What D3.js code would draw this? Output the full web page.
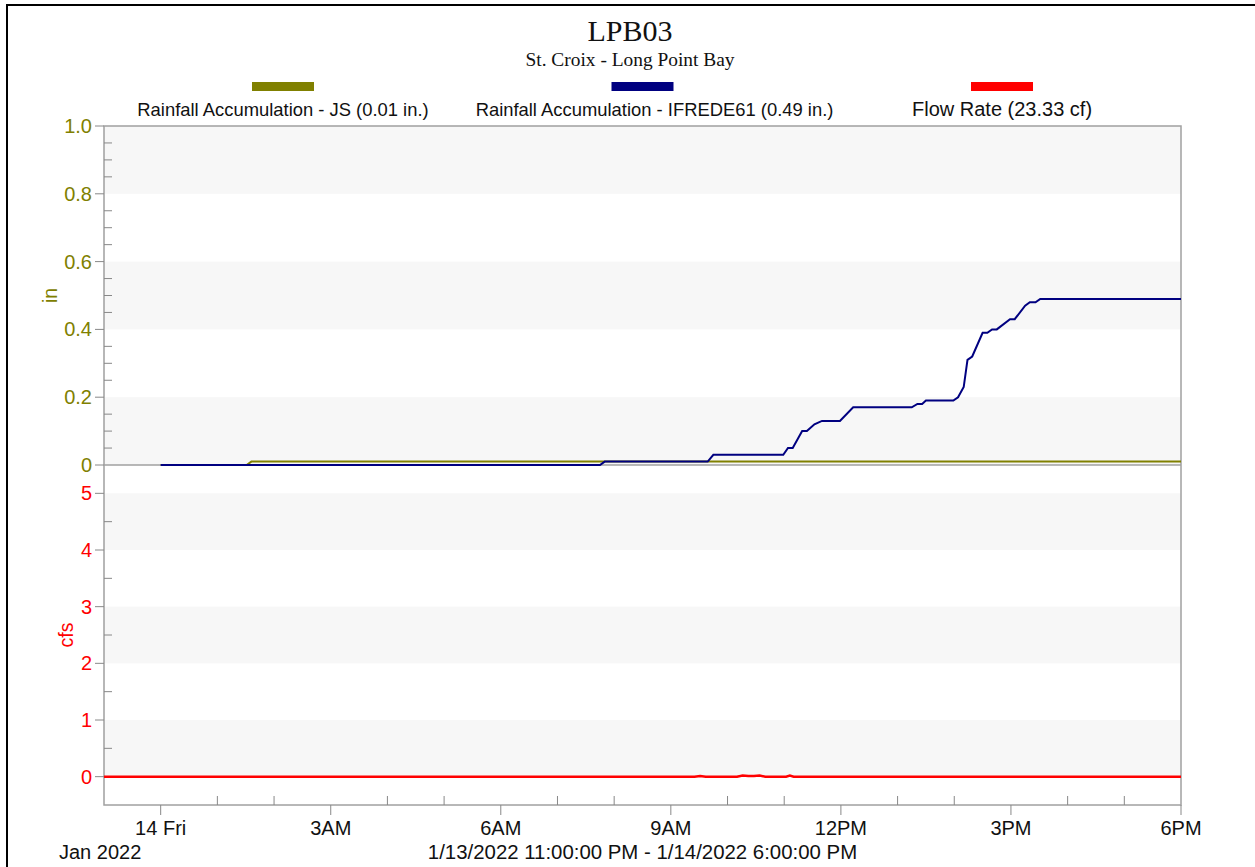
<!DOCTYPE html>
<html>
<head>
<meta charset="utf-8">
<script src="https://cdn.jsdelivr.net/npm/d3@7"></script>
<style>
  html, body { margin: 0; padding: 0; background: #fff; }
  svg { display: block; }
</style>
</head>
<body>
<svg id="chart" width="1255" height="867"></svg>
<script>
// ---------------- DATA ----------------
const titleText = "LPB03";
const subtitleText = "St. Croix - Long Point Bay";
const seriesNames = ["Rainfall Accumulation - JS (0.01 in.)", "Rainfall Accumulation - IFREDE61 (0.49 in.)", "Flow Rate (23.33 cf)"];
const seriesColors = ["#808000", "#000080", "#ff0000"];

// Rainfall Accumulation - JS (in.)
const jsTimes  = ["2022-01-14T00:00", "2022-01-14T01:31", "2022-01-14T01:36", "2022-01-14T18:00"];
const jsValues = [0, 0, 0.01, 0.01];

// Rainfall Accumulation - IFREDE61 (in.)
const ifTimes = ["2022-01-14T00:00", "2022-01-14T07:45", "2022-01-14T07:50", "2022-01-14T09:39", "2022-01-14T09:45",
  "2022-01-14T10:59", "2022-01-14T11:04", "2022-01-14T11:09", "2022-01-14T11:19", "2022-01-14T11:24", "2022-01-14T11:32",
  "2022-01-14T11:40", "2022-01-14T11:59", "2022-01-14T12:13", "2022-01-14T13:15", "2022-01-14T13:21", "2022-01-14T13:26",
  "2022-01-14T13:30", "2022-01-14T13:59", "2022-01-14T14:04", "2022-01-14T14:10", "2022-01-14T14:14", "2022-01-14T14:19",
  "2022-01-14T14:30", "2022-01-14T14:35", "2022-01-14T14:40", "2022-01-14T14:45", "2022-01-14T14:59", "2022-01-14T15:04",
  "2022-01-14T15:15", "2022-01-14T15:20", "2022-01-14T15:26", "2022-01-14T15:31", "2022-01-14T18:00"];
const ifValues = [0, 0, 0.01, 0.01, 0.03,
  0.03, 0.05, 0.05, 0.10, 0.10, 0.12,
  0.13, 0.13, 0.17, 0.17, 0.18, 0.18,
  0.19, 0.19, 0.20, 0.23, 0.31, 0.32,
  0.39, 0.39, 0.40, 0.40, 0.43, 0.43,
  0.47, 0.48, 0.48, 0.49, 0.49];

// Flow Rate (cfs)
const flowTimes = ["2022-01-13T23:00", "2022-01-14T09:25", "2022-01-14T09:31", "2022-01-14T09:37", "2022-01-14T10:10",
  "2022-01-14T10:16", "2022-01-14T10:22", "2022-01-14T10:28", "2022-01-14T10:34", "2022-01-14T10:40",
  "2022-01-14T11:02", "2022-01-14T11:06", "2022-01-14T11:10", "2022-01-14T18:00"];
const flowValues = [0, 0, 0.01, 0, 0, 0.02, 0.01, 0.01, 0.02, 0, 0, 0.02, 0, 0];

// Axes
const xDomain = ["2022-01-13T23:00", "2022-01-14T18:00"];
const xTickTimes  = ["2022-01-14T00:00", "2022-01-14T03:00", "2022-01-14T06:00", "2022-01-14T09:00", "2022-01-14T12:00", "2022-01-14T15:00", "2022-01-14T18:00"];
const xTickLabels = ["14 Fri", "3AM", "6AM", "9AM", "12PM", "3PM", "6PM"];
const xSubLabel = "Jan 2022";
const xRangeLabel = "1/13/2022 11:00:00 PM - 1/14/2022 6:00:00 PM";
const inDomain = [0, 1];
const inTicks = [0, 0.2, 0.4, 0.6, 0.8, 1.0];
const inTickLabels = ["0", "0.2", "0.4", "0.6", "0.8", "1.0"];
const cfsDomain = [-0.5, 5.5];
const cfsTicks = [0, 1, 2, 3, 4, 5];
const inAxisTitle = "in";
const cfsAxisTitle = "cfs";

// ---------------- LAYOUT ----------------
const svg = d3.select("#chart");
const L = 104, R = 1181, T1 = 126, B1 = 465, T2 = 465, B2 = 805;
const parse = s => new Date(s);
const sans = "'Liberation Sans', Arial, sans-serif";
const serif = "'Liberation Serif', 'Times New Roman', serif";
const frameColor = "#a0a0a0";
const tickColor = "#888888";
const bandColor = "#f7f7f7";
const legendCenters = [283, 642.5, 1002];
const legendLabelShift = [0, 12, 0];
const legendFontSizes = [18.4, 18.4, 20];

const x = d3.scaleTime().domain(xDomain.map(parse)).range([L, R]);
const yIn = d3.scaleLinear().domain(inDomain).range([B1, T1]);
const yCfs = d3.scaleLinear().domain(cfsDomain).range([B2, T2]);

// outer border
svg.append("rect").attr("x", 7).attr("y", 5).attr("width", 1270).attr("height", 900)
  .attr("fill", "none").attr("stroke", "#000").attr("stroke-width", 2);

// bands (alternate intervals between major ticks)
const inBands = [0, 2, 4];
svg.append("g").selectAll("rect").data(inBands).join("rect")
  .attr("x", L).attr("width", R - L)
  .attr("y", i => yIn(inTicks[i + 1])).attr("height", i => yIn(inTicks[i]) - yIn(inTicks[i + 1]))
  .attr("fill", bandColor);
const cfsBands = [0, 2, 4];
svg.append("g").selectAll("rect").data(cfsBands).join("rect")
  .attr("x", L).attr("width", R - L)
  .attr("y", i => yCfs(cfsTicks[i + 1])).attr("height", i => yCfs(cfsTicks[i]) - yCfs(cfsTicks[i + 1]))
  .attr("fill", bandColor);

// frame
svg.append("rect").attr("x", L).attr("y", T1).attr("width", R - L).attr("height", B2 - T1)
  .attr("fill", "none").attr("stroke", frameColor).attr("stroke-width", 1.5);
svg.append("line").attr("x1", L).attr("x2", R).attr("y1", B1).attr("y2", B1)
  .attr("stroke", frameColor).attr("stroke-width", 1.5);

// ---- y axis (in) ----
const gIn = svg.append("g").attr("transform", `translate(${L},0)`);
const inMinor = d3.range(0, 1.0001, 0.05).filter(v => inTicks.every(t => Math.abs(t - v) > 1e-6));
gIn.selectAll("line.maj").data(inTicks).join("line").attr("class", "maj")
  .attr("x1", -9).attr("x2", 0).attr("y1", d => yIn(d)).attr("y2", d => yIn(d))
  .attr("stroke", tickColor).attr("stroke-width", 1);
gIn.selectAll("line.min").data(inMinor).join("line").attr("class", "min")
  .attr("x1", 0).attr("x2", 8).attr("y1", d => yIn(d)).attr("y2", d => yIn(d))
  .attr("stroke", tickColor).attr("stroke-width", 1);
gIn.selectAll("text").data(inTicks).join("text")
  .attr("x", -12).attr("y", d => yIn(d)).attr("dy", "0.35em")
  .attr("text-anchor", "end").attr("font-family", sans).attr("font-size", 20)
  .attr("fill", seriesColors[0]).text((d, i) => inTickLabels[i]);
svg.append("text").attr("transform", `translate(57,${(T1 + B1) / 2}) rotate(-90)`)
  .attr("text-anchor", "middle").attr("font-family", sans).attr("font-size", 19.5)
  .attr("fill", seriesColors[0]).text(inAxisTitle);

// ---- y axis (cfs) ----
const gCfs = svg.append("g").attr("transform", `translate(${L},0)`);
const cfsMinor = [0.5, 1.5, 2.5, 3.5, 4.5];
gCfs.selectAll("line.maj").data(cfsTicks).join("line").attr("class", "maj")
  .attr("x1", -9).attr("x2", 0).attr("y1", d => yCfs(d)).attr("y2", d => yCfs(d))
  .attr("stroke", tickColor).attr("stroke-width", 1);
gCfs.selectAll("line.min").data(cfsMinor).join("line").attr("class", "min")
  .attr("x1", 0).attr("x2", 8).attr("y1", d => yCfs(d)).attr("y2", d => yCfs(d))
  .attr("stroke", tickColor).attr("stroke-width", 1);
gCfs.selectAll("text").data(cfsTicks).join("text")
  .attr("x", -12).attr("y", d => yCfs(d)).attr("dy", "0.35em")
  .attr("text-anchor", "end").attr("font-family", sans).attr("font-size", 20)
  .attr("fill", seriesColors[2]).text(d => d);
svg.append("text").attr("transform", `translate(73,${(T2 + B2) / 2}) rotate(-90)`)
  .attr("text-anchor", "middle").attr("font-family", sans).attr("font-size", 19.5)
  .attr("fill", seriesColors[2]).text(cfsAxisTitle);

// ---- x axis ----
const gx = svg.append("g");
const majorT = xTickTimes.map(parse);
const minorT = d3.timeHour.range(parse(xDomain[0]), parse(xDomain[1]))
  .filter(t => t > parse(xDomain[0]) && !majorT.some(m => +m === +t));
gx.selectAll("line.maj").data(majorT).join("line").attr("class", "maj")
  .attr("x1", d => x(d)).attr("x2", d => x(d)).attr("y1", B2).attr("y2", B2 + 10)
  .attr("stroke", tickColor).attr("stroke-width", 1);
gx.selectAll("line.min").data(minorT).join("line").attr("class", "min")
  .attr("x1", d => x(d)).attr("x2", d => x(d)).attr("y1", B2).attr("y2", B2 - 9)
  .attr("stroke", tickColor).attr("stroke-width", 1);
gx.selectAll("text").data(majorT).join("text")
  .attr("x", d => x(d)).attr("y", 835).attr("text-anchor", "middle")
  .attr("font-family", sans).attr("font-size", 20).attr("fill", "#111")
  .text((d, i) => xTickLabels[i]);
svg.append("text").attr("x", 59).attr("y", 859).attr("font-family", sans).attr("font-size", 20)
  .attr("fill", "#111").text(xSubLabel);
svg.append("text").attr("x", (L + R) / 2).attr("y", 859).attr("text-anchor", "middle")
  .attr("font-family", sans).attr("font-size", 20.4).attr("fill", "#111").text(xRangeLabel);

// ---- lines ----
const mk = (times, vals) => times.map((t, i) => ({ t: parse(t), v: vals[i] }));
const lineIn = d3.line().x(d => x(d.t)).y(d => yIn(d.v));
const lineCfs = d3.line().x(d => x(d.t)).y(d => yCfs(d.v));
svg.append("path").datum(mk(jsTimes, jsValues)).attr("d", lineIn)
  .attr("fill", "none").attr("stroke", seriesColors[0]).attr("stroke-width", 2);
svg.append("path").datum(mk(ifTimes, ifValues)).attr("d", lineIn)
  .attr("fill", "none").attr("stroke", seriesColors[1]).attr("stroke-width", 2);
svg.append("path").datum(mk(flowTimes, flowValues)).attr("d", lineCfs)
  .attr("fill", "none").attr("stroke", seriesColors[2]).attr("stroke-width", 2.5);

// ---- title ----
svg.append("text").attr("x", 630).attr("y", 41).attr("text-anchor", "middle")
  .attr("font-family", serif).attr("font-size", 30).attr("fill", "#111").text(titleText);
svg.append("text").attr("x", 630).attr("y", 66).attr("text-anchor", "middle")
  .attr("font-family", serif).attr("font-size", 19.4).attr("fill", "#111").text(subtitleText);

// ---- legend ----
const lg = svg.append("g").selectAll("g").data(seriesNames).join("g")
  .attr("transform", (d, i) => `translate(${legendCenters[i]},0)`);
lg.append("rect").attr("x", -31).attr("y", 82).attr("width", 62).attr("height", 9)
  .attr("fill", (d, i) => seriesColors[i]);
lg.append("text").attr("x", (d, i) => legendLabelShift[i]).attr("y", 116).attr("text-anchor", "middle")
  .attr("font-family", sans).attr("font-size", (d, i) => legendFontSizes[i]).attr("fill", "#111").text(d => d);
</script>
</body>
</html>
